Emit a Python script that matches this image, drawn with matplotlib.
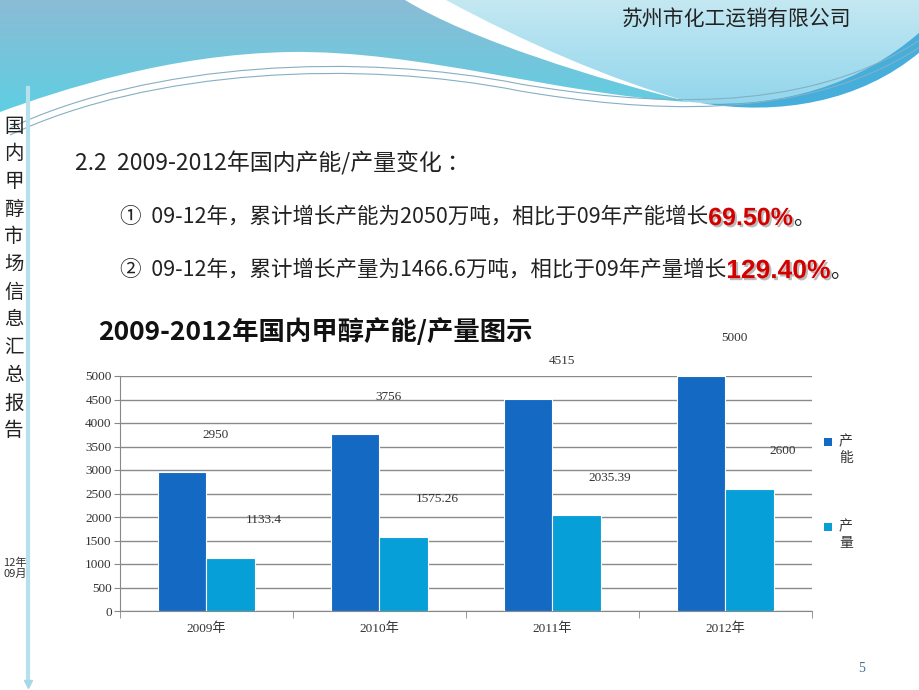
import numpy as np
import matplotlib
matplotlib.use("Agg")
from matplotlib import pyplot as plt
from matplotlib.path import Path
from matplotlib.patches import PathPatch, Rectangle
import matplotlib.patheffects as pe

plt.rcParams["font.family"] = ["Noto Sans CJK SC", "DejaVu Sans"]

# chart data
years = ["2009年", "2010年", "2011年", "2012年"]
capacity = [2950, 3756, 4515, 5000]
output = [1133.4, 1575.26, 2035.39, 2600]
capacity_labels = ["2950", "3756", "4515", "5000"]
output_labels = ["1133.4", "1575.26", "2035.39", "2600"]
y_ticks = list(range(0, 5001, 500))
legend_names = ["产\n能", "产\n量"]

# slide texts
side_title = "国内甲醇市场信息汇总报告"
side_date = "12年\n09月"
company = "苏州市化工运销有限公司"
heading = "2.2  2009-2012年国内产能/产量变化 ："
line1 = ["①  09-12年，累计增长产能为2050万吨，相比于09年产能增长", "69.50%", "。"]
line2 = ["②  09-12年，累计增长产量为1466.6万吨，相比于09年产量增长", "129.40%", "。"]
chart_title = "2009-2012年国内甲醇产能/产量图示"
page_no = "5"

c_cap = "#1469C3"
c_out = "#079FD8"
serif = ["Liberation Serif", "Noto Sans CJK SC"]

fig = plt.figure(figsize=(9.2, 6.9), dpi=100)
fig.patch.set_facecolor("white")

# background layer in pixel coordinates
bg = fig.add_axes([0, 0, 1, 1], zorder=0)
bg.set_xlim(0, 920)
bg.set_ylim(690, 0)
bg.axis("off")

M, L, C, Z = Path.MOVETO, Path.LINETO, Path.CURVE4, Path.CLOSEPOLY


def gradient_fill(path, top, bottom, y0, y1):
    patch = PathPatch(path, facecolor="none", edgecolor="none")
    bg.add_patch(patch)
    t = np.linspace(0, 1, 100)[:, None]
    a = np.array(matplotlib.colors.to_rgb(top))
    b = np.array(matplotlib.colors.to_rgb(bottom))
    img = (a[None, None, :] * (1 - t[:, :, None]) + b[None, None, :] * t[:, :, None])
    img = np.repeat(img, 2, axis=1)
    im = bg.imshow(img, extent=[0, 920, y1, y0], aspect="auto", zorder=1)
    im.set_clip_path(patch)


left_wave = Path(
    [(0, 0), (405, 0), (470, 40), (600, 80), (690, 102),
     (560, 95), (420, 50), (290, 52), (170, 54), (60, 90), (0, 112), (0, 0)],
    [M, L, C, C, C, C, C, C, C, C, C, Z])
gradient_fill(left_wave, "#8BBCD5", "#5ECFE3", 0, 115)

right_wave = Path(
    [(446, 0), (920, 0), (920, 50), (860, 95), (780, 110), (690, 102),
     (610, 80), (520, 40), (446, 0), (446, 0)],
    [M, L, L, C, C, C, C, C, C, Z])
gradient_fill(right_wave, "#C4E8F2", "#8FD5EC", 0, 110)

band = Path(
    [(700, 103), (780, 108), (860, 85), (920, 32), (920, 52),
     (860, 102), (780, 116), (700, 103), (700, 103)],
    [M, C, C, C, L, C, C, C, Z])
bg.add_patch(PathPatch(band, facecolor="#45AEDB", edgecolor="none", zorder=2))

for dy in (0, 7):
    thin = Path([(10, 128 + dy), (150, 62 + dy), (360, 52 + dy), (520, 84 + dy),
                 (640, 104 + dy), (800, 118 + dy), (920, 40 + dy)],
                [M, C, C, C, C, C, C])
    bg.add_patch(PathPatch(thin, facecolor="none", edgecolor="#86AFC4",
                           lw=0.8, zorder=2))

# left vertical rule
bg.plot([28, 28], [88, 680], color="#B4E1EC", lw=3, zorder=2)
bg.plot([28], [684], marker="v", color="#A6D8E6", markersize=6, zorder=2)

for i, ch in enumerate(side_title):
    bg.text(14, 126 + i * 27.7, ch, ha="center", va="center", fontsize=14,
            color="#222222", zorder=3)
bg.text(15, 568, side_date, ha="center", va="center", fontsize=8,
        color="#333333", linespacing=1.1, zorder=3)

bg.text(622, 20, company, ha="left", va="center", fontsize=15,
        color="#222222", zorder=3)

bg.text(75, 163, heading, ha="left", va="center", fontsize=16.5,
        color="#222222", zorder=3)

shadow = [pe.SimplePatchShadow(offset=(1.5, -1.5), shadow_rgbFace="#777777",
                               alpha=0.5), pe.Normal()]
for (y, pieces, size) in [(217, line1, 18), (270, line2, 19)]:
    t1 = bg.text(120, y, pieces[0], ha="left", va="center", fontsize=15.5,
                 color="#222222", zorder=3)
    t2 = bg.annotate(pieces[1], xy=(1, 0.45), xycoords=t1, ha="left",
                     va="center", fontsize=size, fontweight="bold",
                     family=["Liberation Sans", "DejaVu Sans"],
                     color="#D40000", path_effects=shadow, zorder=3)
    bg.annotate(pieces[2], xy=(1, 0.5), xycoords=t2, ha="left", va="center",
                fontsize=15.5, color="#222222", zorder=3)

bg.text(98, 332, chart_title, ha="left", va="center", fontsize=19,
        fontweight="bold", color="#111111", zorder=3)

bg.text(862, 668, page_no, ha="center", va="center", fontsize=10,
        family=serif, color="#4F6F90", zorder=3)

# chart
ax = fig.add_axes([120 / 920, 1 - 611 / 690, 692 / 920, 235 / 690], zorder=2)
ax.set_facecolor("none")
x = np.arange(len(years))
w = 0.28
ax.bar(x - w / 2, capacity, w, color=c_cap, edgecolor="white", lw=0.8, zorder=3)
ax.bar(x + w / 2, output, w, color=c_out, edgecolor="white", lw=0.8, zorder=3)

for xs, vals, labs in [(x - w / 2, capacity, capacity_labels),
                       (x + w / 2, output, output_labels)]:
    for xi, v, lab in zip(xs, vals, labs):
        ax.annotate(lab, xy=(xi, v), xytext=(24, 27), textcoords="offset points",
                    ha="center", va="center", fontsize=9.5, family=serif,
                    color="#333333", annotation_clip=False)

ax.set_xlim(-0.5, 3.5)
ax.set_ylim(0, 5000)
ax.set_yticks(y_ticks)
ax.set_yticklabels([str(v) for v in y_ticks], family=serif, fontsize=9.5,
                   color="#333333")
ax.set_xticks(x)
ax.set_xticklabels(years, family=serif, fontsize=9.5, color="#333333")
ax.set_xticks(np.arange(-0.5, 4, 1), minor=True)
ax.tick_params(axis="x", which="major", length=0, pad=8)
ax.tick_params(axis="x", which="minor", length=5, color="#888888")
ax.tick_params(axis="y", length=4, color="#888888", pad=2)
ax.grid(axis="y", color="#8A8A8A", lw=1, zorder=0)
ax.set_axisbelow(True)
for s in ["top", "right"]:
    ax.spines[s].set_visible(False)
for s in ["left", "bottom"]:
    ax.spines[s].set_color("#888888")

# legend
for (yy, col, name) in [(442, c_cap, legend_names[0]), (527, c_out, legend_names[1])]:
    bg.add_patch(Rectangle((824, yy - 4), 8, 8, facecolor=col, edgecolor="none",
                           zorder=3))
    bg.text(839, yy - 8, name, ha="left", va="top", fontsize=10,
            color="#333333", linespacing=1.3, zorder=3)

fig.savefig("out.png", dpi=100)
